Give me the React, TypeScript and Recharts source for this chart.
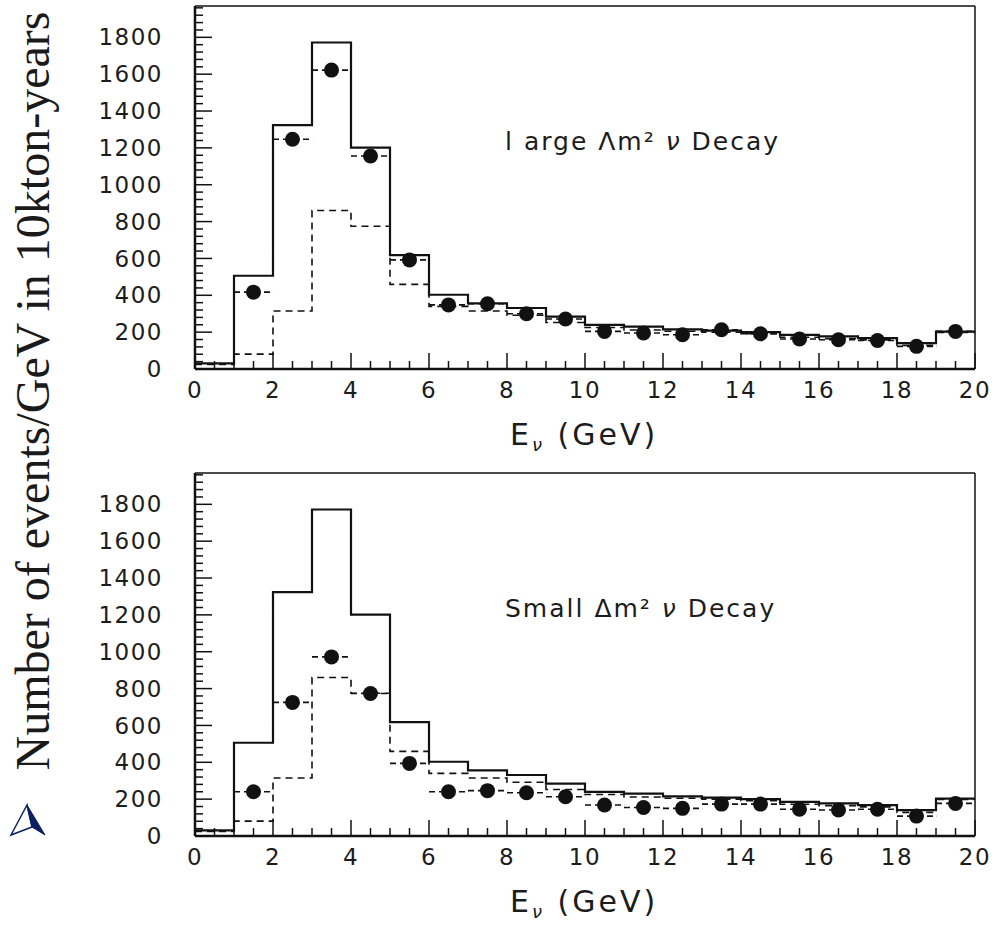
import React from "react";
import {
  ComposedChart,
  Line,
  Scatter,
  ErrorBar,
  XAxis,
  YAxis,
  ReferenceLine,
} from "recharts";

// bin edges 0..20 GeV, one value per 1 GeV bin
const binStarts = [0, 1, 2, 3, 4, 5, 6, 7, 8, 9, 10, 11, 12, 13, 14, 15, 16, 17, 18, 19];
const noOscillation = [30, 506, 1324, 1772, 1201, 618, 403, 356, 331, 284, 240, 230, 215, 208, 200, 185, 177, 168, 140, 203];
const oscillation = [25, 81, 315, 860, 775, 459, 340, 315, 292, 252, 225, 212, 205, 200, 192, 172, 165, 158, 128, 198];

// decay points at bin centres 1.5 .. 19.5
const binCentres = [1.5, 2.5, 3.5, 4.5, 5.5, 6.5, 7.5, 8.5, 9.5, 10.5, 11.5, 12.5, 13.5, 14.5, 15.5, 16.5, 17.5, 18.5, 19.5];
const decayLarge = [417, 1247, 1622, 1156, 592, 348, 354, 300, 271, 204, 195, 186, 213, 191, 163, 159, 155, 123, 204];
const decaySmall = [240, 725, 972, 773, 394, 240, 246, 235, 213, 168, 155, 150, 173, 173, 145, 141, 145, 108, 177];

const xTickLabels = [0, 2, 4, 6, 8, 10, 12, 14, 16, 18, 20];
const yTickLabels = [0, 200, 400, 600, 800, 1000, 1200, 1400, 1600, 1800];

const Y_MAX = 1970;
const xTicks = Array.from({ length: 41 }, (_, i) => i * 0.5);
const yTicks = Array.from({ length: 50 }, (_, i) => i * 40);

const histRows = [...binStarts, 20].map((x, i) => ({
  x,
  noOsc: noOscillation[Math.min(i, 19)],
  osc: oscillation[Math.min(i, 19)],
}));

const toDots = (vals: number[]) =>
  binCentres.map((x, i) => ({ x, y: vals[i], ex: 0.5 }));

const ink = "#111";
const sans = "'DejaVu Sans', sans-serif";

const XTick = (props: any) => {
  const { x, y, payload } = props;
  const major = xTickLabels.includes(payload.value);
  return (
    <g>
      <line x1={x} x2={x} y1={y} y2={y - (major ? 16 : 8)} stroke={ink} strokeWidth={1.5} />
      {major && (
        <text
          x={x}
          y={y + 13}
          dy="0.71em"
          textAnchor="middle"
          fontFamily={sans}
          fontSize={23}
          letterSpacing={1.5}
          fill="#1c1c1c"
        >
          {payload.value}
        </text>
      )}
    </g>
  );
};

const YTick = (props: any) => {
  const { x, y, payload } = props;
  const major = yTickLabels.includes(payload.value);
  return (
    <g>
      <line x1={x} x2={x + (major ? 17 : 8)} y1={y} y2={y} stroke={ink} strokeWidth={1.5} />
      {major && (
        <text
          x={x - 32}
          y={y}
          dy="0.355em"
          textAnchor="end"
          fontFamily={sans}
          fontSize={23}
          letterSpacing={1.5}
          fill="#1c1c1c"
        >
          {payload.value}
        </text>
      )}
    </g>
  );
};

const renderDot = (p: any) => <circle cx={p.cx} cy={p.cy} r={7.5} fill={ink} />;

function Panel({ dots }: { dots: { x: number; y: number; ex: number }[] }) {
  return (
    <ComposedChart
      width={995}
      height={467}
      data={histRows}
      margin={{ top: 6, right: 20, bottom: 0, left: 0 }}
    >
      <XAxis
        type="number"
        dataKey="x"
        domain={[0, 20]}
        ticks={xTicks}
        interval={0}
        tickSize={0}
        tickMargin={0}
        tickLine={false}
        tick={<XTick />}
        axisLine={{ stroke: ink, strokeWidth: 2.5 }}
        height={98}
      />
      <YAxis
        type="number"
        domain={[0, Y_MAX]}
        ticks={yTicks}
        interval={0}
        tickSize={0}
        tickMargin={0}
        tickLine={false}
        tick={<YTick />}
        axisLine={{ stroke: ink, strokeWidth: 2.5 }}
        width={195}
      />
      <ReferenceLine y={Y_MAX} stroke={ink} strokeWidth={1.5} />
      <ReferenceLine x={20} stroke={ink} strokeWidth={1.5} />
      <Line
        dataKey="osc"
        type="stepAfter"
        stroke={ink}
        strokeWidth={1.6}
        strokeDasharray="7 5"
        dot={false}
        isAnimationActive={false}
      />
      <Line
        dataKey="noOsc"
        type="stepAfter"
        stroke={ink}
        strokeWidth={2.2}
        dot={false}
        isAnimationActive={false}
      />
      <Scatter data={dots} dataKey="y" shape={renderDot} isAnimationActive={false}>
        <ErrorBar
          dataKey="ex"
          direction="x"
          width={0}
          stroke={ink}
          strokeWidth={1.6}
          strokeDasharray="6 4"
          isAnimationActive={false}
        />
      </Scatter>
    </ComposedChart>
  );
}

function PanelText({ top, title }: { top: number; title: React.ReactNode }) {
  return (
    <>
      <text x={505} y={top + 150} fontFamily={sans} fontSize={25} letterSpacing={2} fill="#1c1c1c">
        {title}
      </text>
      <text x={510} y={top + 445} fontFamily={sans} fontSize={30} letterSpacing={3} fill="#1c1c1c">
        E
        <tspan fontSize={18} dy={6} fontStyle="italic">ν</tspan>
        <tspan dy={-6}> (GeV)</tspan>
      </text>
    </>
  );
}

export default function App() {
  return (
    <div
      style={{
        position: "absolute",
        left: 0,
        top: 0,
        width: 995,
        height: 934,
        background: "#fff",
        overflow: "hidden",
      }}
    >
      <div style={{ position: "absolute", left: 0, top: 0 }}>
        <Panel dots={toDots(decayLarge)} />
      </div>
      <div style={{ position: "absolute", left: 0, top: 467 }}>
        <Panel dots={toDots(decaySmall)} />
      </div>
      <svg
        width={995}
        height={934}
        style={{ position: "absolute", left: 0, top: 0, pointerEvents: "none" }}
      >
        <text
          transform="translate(49, 391) rotate(-90)"
          textAnchor="middle"
          fontFamily="'Liberation Serif', 'Times New Roman', serif"
          fontSize={48}
          fill="#1a1a1a"
        >
          Number of events/GeV in 10kton-years
        </text>
        <polygon points="27,805 11,835 32,827" fill="#fff" stroke="#0b1f63" strokeWidth={1.5} />
        <polygon points="27,805 32,827 45,835" fill="#0b1f63" stroke="#0b1f63" strokeWidth={1} />
        <PanelText
          top={0}
          title={
            <>
              l arge Λm² <tspan fontStyle="italic">ν</tspan> Decay
            </>
          }
        />
        <PanelText
          top={467}
          title={
            <>
              Small Δm² <tspan fontStyle="italic">ν</tspan> Decay
            </>
          }
        />
      </svg>
    </div>
  );
}
